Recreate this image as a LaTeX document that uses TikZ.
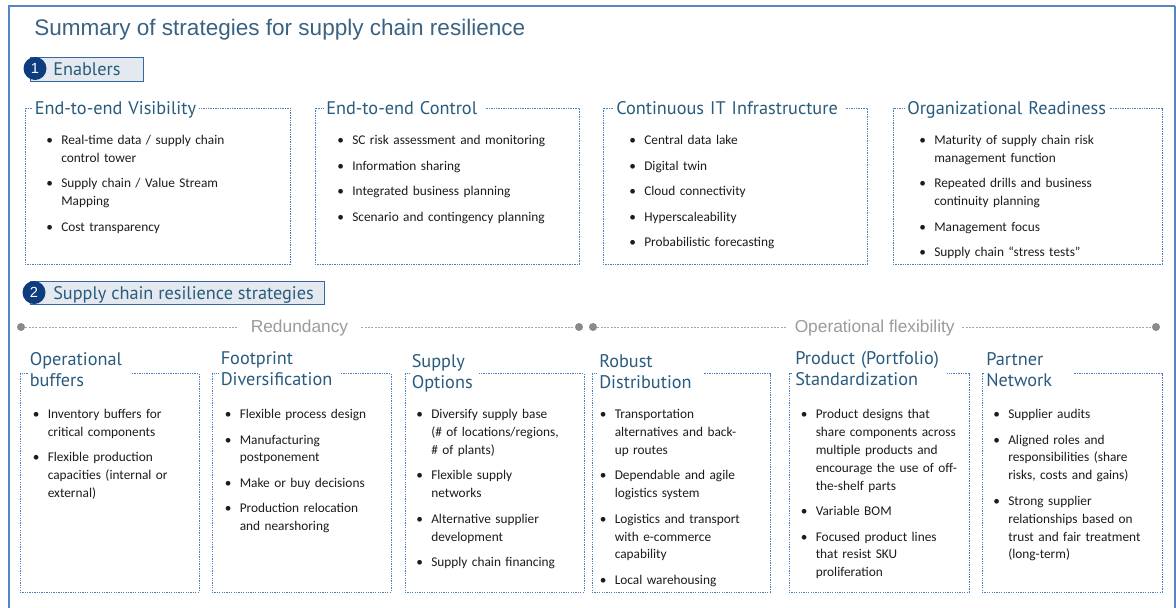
\documentclass[tikz,border=0pt]{standalone}
\usepackage{fontspec}
\setmainfont{Carlito}
\newfontfamily\arialf{Liberation Sans}
\newfontfamily\headf{PT Sans}
\definecolor{frameblue}{HTML}{5585C2}
\definecolor{titlec}{HTML}{3A6282}
\definecolor{headc}{HTML}{285B7E}
\definecolor{dotc}{HTML}{4B7DBF}
\definecolor{tagfill}{HTML}{E4E9EF}
\definecolor{tagline}{HTML}{3566A8}
\definecolor{navy}{HTML}{0D3D7E}
\definecolor{graytxt}{HTML}{9B9B9B}
\definecolor{grayline}{HTML}{A6A6A6}
\definecolor{graydot}{HTML}{8A8A8A}
\definecolor{bodyc}{HTML}{1C1C1C}
\newcommand\bodysz{\fontsize{10pt}{13.4pt}\selectfont}
\newcommand\headsz{\headf\fontsize{13.7pt}{15.75pt}\selectfont}
\newcommand\nl{\hfil\break\strut}
\newcommand\bi[1]{\par\noindent\hangindent=11.25pt\hangafter=1\makebox[11.25pt][l]{\textbullet}\strut#1\par\vspace{5.7pt}}
\begin{document}
\begin{tikzpicture}[x=0.75pt,y=-0.75pt,
  dotbox/.style={draw=dotc,line width=0.7pt,dash pattern=on 1pt off 0.8pt},
  ehead/.style={anchor=north west,fill=white,inner xsep=1.5pt,inner ysep=0pt,font=\headsz,text=headc},
  shead/.style={anchor=north west,fill=white,inner xsep=1.5pt,inner ysep=0pt,font=\headsz,text=headc},
  blist/.style={anchor=north west,inner sep=0pt,font=\bodysz,text=bodyc,text width=200pt},
  tagbox/.style={anchor=north west,draw=tagline,fill=tagfill,line width=0.75pt,inner sep=0pt},
  numc/.style={circle,fill=navy,minimum size=17.25pt,inner sep=0pt,text=white,font=\arialf\fontsize{11pt}{11pt}\selectfont},
  tagtext/.style={anchor=base west,inner sep=0pt,font=\headsz,text=headc},
  gdot/.style={circle,fill=graydot,minimum size=6pt,inner sep=0pt},
  glabel/.style={anchor=base,inner ysep=0pt,font=\arialf\fontsize{13pt}{15pt}\selectfont,text=graytxt},
  gline/.style={draw=grayline,line width=0.6pt,dash pattern=on 1.5pt off 1pt}
]
\useasboundingbox (0,0) rectangle (1176,607);
\fill[white] (0,0) rectangle (1176,607);
% frame
\draw[frameblue,line width=1.5pt] (9,612) -- (9,6) -- (1175,6);
\draw[frameblue,line width=1pt] (1175,6) -- (1175,612);
% title
\node[anchor=base west,inner sep=0pt,font=\arialf\fontsize{16.9pt}{20pt}\selectfont,text=titlec] (title) at (34,35) {Summary of strategies for supply chain resilience};
% tag 1
\node[tagbox,minimum width=84.75pt,minimum height=18pt] (t1) at (30,57) {};
\node[numc] (c1) at (35,68.5) {1};
\node[tagtext] (t1txt) at (53,75.5) {Enablers};
% enabler boxes
\draw[dotbox] (25,108) rectangle (290,264);
\draw[dotbox] (315,108) rectangle (579,264);
\draw[dotbox] (603,108) rectangle (867,264);
\draw[dotbox] (893,108) rectangle (1162,264);
\node[ehead,text width=121.5pt] (h1) at (32.5,99.3) {\strut End-to-end Visibility};
\node[ehead,text width=118.5pt] (h2) at (324,99.3) {\strut End-to-end Control};
\node[ehead,text width=171pt] (h3) at (614,99.3) {\strut Continuous IT Infrastructure};
\node[ehead,text width=150pt] (h4) at (905,99.3) {\strut Organizational Readiness};
\node[blist] (l1) at (46,126.5) {%
\bi{Real-time data / supply chain\nl control tower}
\bi{Supply chain / Value Stream\nl Mapping}
\bi{Cost transparency}};
\node[blist] (l2) at (337,126.5) {%
\bi{SC risk assessment and monitoring}
\bi{Information sharing}
\bi{Integrated business planning}
\bi{Scenario and contingency planning}};
\node[blist] (l3) at (629,126.5) {%
\bi{Central data lake}
\bi{Digital twin}
\bi{Cloud connectivity}
\bi{Hyperscaleability}
\bi{Probabilistic forecasting}};
\node[blist] (l4) at (919,126.5) {%
\bi{Maturity of supply chain risk\nl management function}
\bi{Repeated drills and business\nl continuity planning}
\bi{Management focus}
\bi{Supply chain “stress tests”}};
% tag 2
\node[tagbox,minimum width=220.5pt,minimum height=17.25pt] (t2) at (30,281) {};
\node[numc] (c2) at (34,292.5) {2};
\node[tagtext] (t2txt) at (53,299.5) {Supply chain resilience strategies};
% redundancy / flexibility line
\node[gdot] (d1) at (21,327) {};
\node[gdot] (d2) at (579,327) {};
\node[gdot] (d3) at (593,327) {};
\node[gdot] (d4) at (1156,327) {};
\node[glabel,inner xsep=9.75pt] (red) at (299.5,332.5) {Redundancy};
\node[glabel,inner xsep=5.5pt] (flex) at (874.7,332.5) {Operational flexibility};
\draw[gline] (d1) -- (red.west |- d1);
\draw[gline] (red.east |- d2) -- (d2);
\draw[gline] (d3) -- (flex.west |- d3);
\draw[gline] (flex.east |- d4) -- (d4);
% strategy boxes
\draw[dotbox] (20,373.5) rectangle (199,592);
\draw[dotbox] (212,373.5) rectangle (391,592);
\draw[dotbox] (405,373.5) rectangle (584,592);
\draw[dotbox] (592,373.5) rectangle (770,592);
\draw[dotbox] (789,373.5) rectangle (969,592);
\draw[dotbox] (982,373.5) rectangle (1162,592);
\node[shead,text width=75.4pt] (s1) at (27.5,350.3) {\strut Operational\\buffers};
\node[shead,text width=88.9pt] (s2) at (218.5,349.8) {\strut Footprint\\Diversification};
\node[shead,text width=48.4pt] (s3) at (409.5,352.8) {\strut Supply\\Options};
\node[shead,text width=77.25pt] (s4) at (597,352.3) {\strut Robust\\Distribution};
\node[shead,text width=112.5pt] (s5) at (793,349.8) {\strut Product (Portfolio)\\Standardization};
\node[shead,text width=63.75pt] (s6) at (984,350.3) {\strut Partner\\Network};
\node[blist] (m1) at (32.5,400.5) {%
\bi{Inventory buffers for\nl critical components}
\bi{Flexible production\nl capacities (internal or\nl external)}};
\node[blist] (m2) at (224.5,400.5) {%
\bi{Flexible process design}
\bi{Manufacturing\nl postponement}
\bi{Make or buy decisions}
\bi{Production relocation\nl and nearshoring}};
\node[blist] (m3) at (416,400.5) {%
\bi{Diversify supply base\nl (\# of locations/regions,\nl \# of plants)}
\bi{Flexible supply\nl networks}
\bi{Alternative supplier\nl development}
\bi{Supply chain financing}};
\node[blist] (m4) at (599.5,400.5) {%
\bi{Transportation\nl alternatives and back-\nl up routes}
\bi{Dependable and agile\nl logistics system}
\bi{Logistics and transport\nl with e-commerce\nl capability}
\bi{Local warehousing}};
\node[blist] (m5) at (800.5,400.5) {%
\bi{Product designs that\nl share components across\nl multiple products and\nl encourage the use of off-\nl the-shelf parts}
\bi{Variable BOM}
\bi{Focused product lines\nl that resist SKU\nl proliferation}};
\node[blist] (m6) at (993,400.5) {%
\bi{Supplier audits}
\bi{Aligned roles and\nl responsibilities (share\nl risks, costs and gains)}
\bi{Strong supplier\nl relationships based on\nl trust and fair treatment\nl (long-term)}};
\end{tikzpicture}
\end{document}
